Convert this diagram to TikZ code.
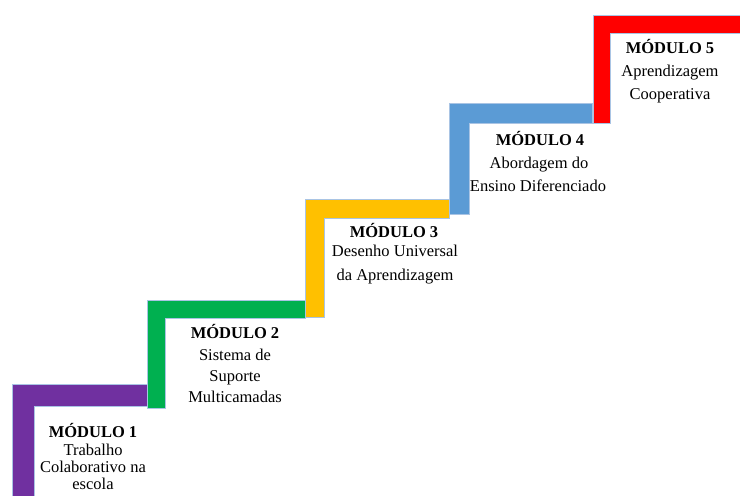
\documentclass[tikz,border=0pt]{standalone}
\usepackage{fontspec}
\setmainfont{Liberation Serif}
\definecolor{cpurple}{HTML}{7030A0}
\definecolor{cgreen}{HTML}{00B050}
\definecolor{cyellow}{HTML}{FFC000}
\definecolor{cblue}{HTML}{5B9BD5}
\definecolor{cred}{HTML}{FF0000}
\definecolor{edgeblue}{HTML}{A9C4E4}
\tikzset{
  stair/.style={draw=edgeblue, line width=0.6pt},
  title/.style={anchor=base, inner sep=0pt, font=\fontsize{16.5}{18}\selectfont\bfseries},
  body/.style={anchor=base, inner sep=0pt, font=\fontsize{16.5}{18}\selectfont},
}
\begin{document}
\begin{tikzpicture}[x=1pt,y=-1pt]
\useasboundingbox (0,0) rectangle (740,496);
% purple
\filldraw[stair, fill=cpurple] (12,497) -- (12,384) -- (148,384) -- (148,406) -- (34,406) -- (34,497) -- cycle;
% green
\filldraw[stair, fill=cgreen] (147,408) -- (147,300) -- (305,300) -- (305,318) -- (165,318) -- (165,408) -- cycle;
% yellow
\filldraw[stair, fill=cyellow] (305,317) -- (305,199) -- (449,199) -- (449,218) -- (324,218) -- (324,317) -- cycle;
% blue
\filldraw[stair, fill=cblue] (449,214) -- (449,103) -- (592,103) -- (592,123) -- (469,123) -- (469,214) -- cycle;
% red
\filldraw[stair, fill=cred] (593,123) -- (593,15) -- (741,15) -- (741,33) -- (610,33) -- (610,123) -- cycle;
% module 1
\node[title] (m1t) at (93,437) {MÓDULO 1};
\node[body] (m1a) at (93,455) {Trabalho};
\node[body] (m1b) at (93,472) {Colaborativo na};
\node[body] (m1c) at (93,489) {escola};
% module 2
\node[title] (m2t) at (235,338) {MÓDULO 2};
\node[body] (m2a) at (235,360) {Sistema de};
\node[body] (m2b) at (235,381) {Suporte};
\node[body] (m2c) at (235,402) {Multicamadas};
% module 3
\node[title] (m3t) at (394,237) {MÓDULO 3};
\node[body] (m3a) at (395,256) {Desenho Universal};
\node[body] (m3b) at (395,280) {da Aprendizagem};
% module 4
\node[title] (m4t) at (540,145) {MÓDULO 4};
\node[body] (m4a) at (539,168) {Abordagem do};
\node[body] (m4b) at (538,191) {Ensino Diferenciado};
% module 5
\node[title] (m5t) at (670,53) {MÓDULO 5};
\node[body] (m5a) at (670,76) {Aprendizagem};
\node[body] (m5b) at (670,99) {Cooperativa};
\end{tikzpicture}
\end{document}
